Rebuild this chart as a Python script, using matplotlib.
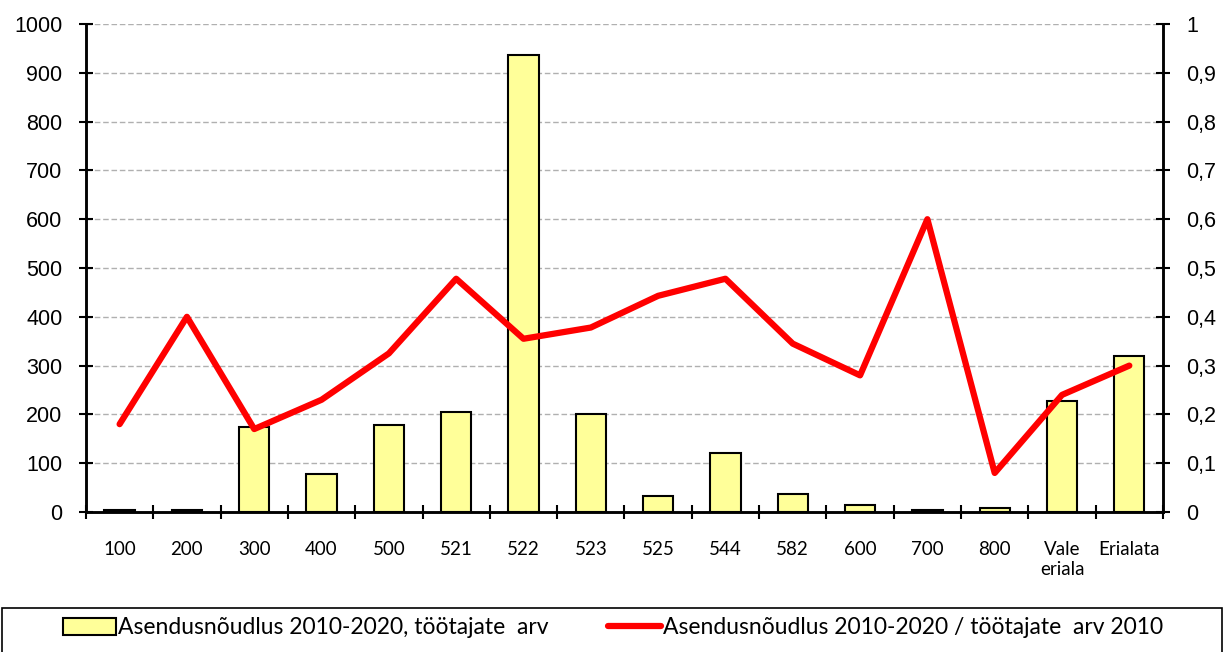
import numpy as np
import matplotlib.pyplot as plt
from matplotlib.ticker import FixedLocator
from matplotlib.patches import Rectangle

categories = ['100', '200', '300', '400', '500', '521', '522', '523', '525', '544',
              '582', '600', '700', '800', 'Vale\neriala', 'Erialata']
demand = [5, 5, 175, 78, 178, 205, 937, 200, 32, 120, 37, 14, 4, 9, 228, 320]
ratio = [0.18, 0.40, 0.17, 0.23, 0.325, 0.478, 0.355, 0.378, 0.443, 0.478,
         0.345, 0.28, 0.60, 0.08, 0.24, 0.30]

fig = plt.figure(figsize=(12.26, 6.52), dpi=100)
ax = fig.add_axes([0.0701, 0.2147, 0.8785, 0.7485])
ax2 = ax.twinx()

x = np.arange(len(categories))
bars = ax.bar(x, demand, width=0.45, color='#ffff99', edgecolor='black', linewidth=1.5,
              label='Asendusnõudlus 2010-2020, töötajate  arv', zorder=3)
line, = ax2.plot(x, ratio, color='#ff0000', lw=4.5, solid_capstyle='round',
                 solid_joinstyle='round', label='Asendusnõudlus 2010-2020 / töötajate  arv 2010')

ax.set_xlim(-0.5, len(categories) - 0.5)
ax.set_ylim(0, 1000)
ax2.set_ylim(0, 1)
ax.set_yticks(np.arange(0, 1001, 100))
ax2.set_yticks(np.arange(0, 1.01, 0.1))
ax2.set_yticklabels(['0'] + ['0,%d' % i for i in range(1, 10)] + ['1'])

ax.grid(axis='y', color='#b0b0b0', ls=(0, (4, 2)), lw=1, zorder=0)
ax.set_axisbelow(True)

ax.set_xticks(x)
ax.set_xticklabels(categories, fontsize=13.5, family=['Lato', 'DejaVu Sans'],
                   linespacing=1.2)
ax.xaxis.set_minor_locator(FixedLocator(np.arange(-0.5, len(categories), 1)))
ax.tick_params(axis='x', which='major', length=0, pad=21)
ax.tick_params(axis='x', which='minor', length=10, direction='inout', width=1.5)
ax.tick_params(axis='y', length=10, direction='inout', width=1.5, labelsize=15.5, pad=12)
ax2.tick_params(axis='y', length=10, direction='inout', width=1.5, labelsize=15.5, pad=12)
for lab in ax.get_yticklabels() + ax2.get_yticklabels():
    lab.set_family(['Liberation Sans', 'DejaVu Sans'])

for a in (ax, ax2):
    a.spines['top'].set_visible(False)
    for s in ('left', 'right', 'bottom'):
        a.spines[s].set_linewidth(1.8)

# legend box spans the full width at the bottom
fig.patches.append(Rectangle((2 / 1226, -0.01), 1220 / 1226, 44 / 652 + 0.01,
                             transform=fig.transFigure, fill=False,
                             edgecolor='black', lw=1.2))
leg = fig.legend([bars, line], [bars.get_label(), line.get_label()], ncol=2,
                 loc='center', bbox_to_anchor=(0.5, 24 / 652),
                 frameon=False, handlelength=2.3, handleheight=0.7,
                 handletextpad=0.1, columnspacing=2.6,
                 prop={'family': ['Lato', 'DejaVu Sans'], 'size': 16.5})

fig.savefig('out.png', dpi=100)
